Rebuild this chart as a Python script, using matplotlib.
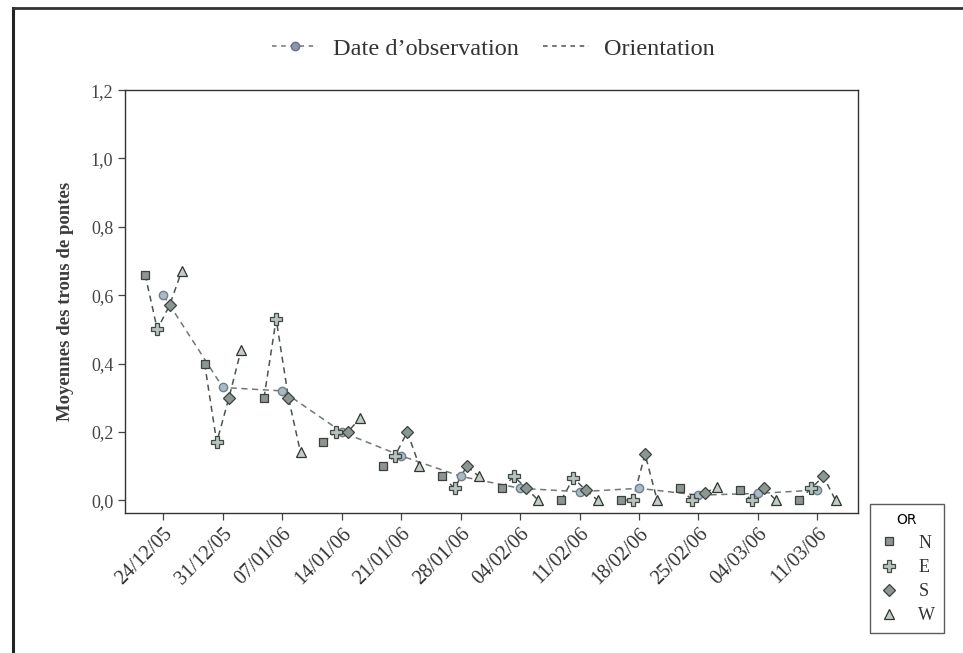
import datetime as dt

import numpy as np
import matplotlib
matplotlib.use("Agg")
import matplotlib.pyplot as plt
import matplotlib.dates as mdates
from matplotlib.lines import Line2D

plt.rcParams['font.family'] = ['Liberation Serif', 'DejaVu Serif']

# observation dates (weekly)
date_labels = ["24/12/05", "31/12/05", "07/01/06", "14/01/06", "21/01/06", "28/01/06",
               "04/02/06", "11/02/06", "18/02/06", "25/02/06", "04/03/06", "11/03/06"]
orientations = ["N", "E", "S", "W"]

# mean number of egg-laying holes per orientation, one row per date
val_N = [0.66, 0.40, 0.30, 0.17, 0.10, 0.07, 0.035, 0.00, 0.00, 0.035, 0.03, 0.00]
val_E = [0.50, 0.17, 0.53, 0.20, 0.13, 0.035, 0.07, 0.065, 0.00, 0.00, 0.00, 0.035]
val_S = [0.57, 0.30, 0.30, 0.20, 0.20, 0.10, 0.035, 0.03, 0.135, 0.02, 0.035, 0.07]
val_W = [0.67, 0.44, 0.14, 0.24, 0.10, 0.07, 0.00, 0.00, 0.00, 0.04, 0.00, 0.00]
# mean per observation date
val_mean = [0.60, 0.33, 0.32, 0.20, 0.13, 0.07, 0.035, 0.025, 0.035, 0.015, 0.02, 0.03]

dates = [dt.datetime.strptime(d, "%d/%m/%y") for d in date_labels]
xd = mdates.date2num(dates)
offsets = [-2.15, -0.72, 0.72, 2.15]  # day shift of each orientation inside a group

line_col = "#4b544e"
mk = {
    "N": dict(marker="s", ms=6, mfc="#8e948f", mec="#3a403c"),
    "E": dict(marker="P", ms=8, mfc="#b9c2bd", mec="#3f4a45"),
    "S": dict(marker="D", ms=6.5, mfc="#8d9792", mec="#39423e"),
    "W": dict(marker="^", ms=7, mfc="#c4ccc6", mec="#2f3632"),
}

fig = plt.figure(figsize=(9.63, 6.53), dpi=100)
ax = fig.add_axes([0.130, 0.214, 0.761, 0.648])

vals = np.array([val_N, val_E, val_S, val_W])

# orientation lines within each observation date
for i in range(len(dates)):
    xs = xd[i] + np.array(offsets)
    ax.plot(xs, vals[:, i], ls=(0, (4, 3)), color=line_col, lw=1.1, zorder=2)
    for j, o in enumerate(orientations):
        ax.plot(xs[j], vals[j, i], ls="none", mew=0.9, zorder=4, **mk[o])

# line of the date means
ax.plot(xd, val_mean, ls=(0, (4, 3)), color="#6f7974", lw=1.1,
        marker="o", ms=6, mfc="#a9bac3", mec="#6e808a", zorder=3)

ax.set_xlim(xd[0] - 4.5, xd[0] + 81.8)
ax.set_ylim(-0.038, 1.2)
ax.set_yticks(np.arange(0, 1.21, 0.2))
ax.set_yticklabels([f"{v:.1f}".replace(".", ",") for v in np.arange(0, 1.21, 0.2)],
                   fontsize=13, color="#444444")
ax.set_xticks(xd)
ax.set_xticklabels(date_labels, rotation=45, ha="right", rotation_mode="anchor",
                   fontsize=14.5, color="#333333")
ax.tick_params(axis="both", direction="out", length=5, width=0.9, color="#444444")
ax.tick_params(axis="x", pad=3)
for s in ax.spines.values():
    s.set_color("#333333")
    s.set_linewidth(1.0)
ax.set_ylabel("Moyennes des trous de pontes", fontsize=13.5, fontweight="bold",
              color="#3c3c3c", labelpad=12)

# top legend
h1 = Line2D([], [], ls=(0, (3, 3)), color="#6e7772", lw=1.1, marker="o", ms=6,
            mfc="#8d93b0", mec="#6a6f8c")
h2 = Line2D([], [], ls=(0, (3, 3)), color=line_col, lw=1.1)
fig.legend([h1, h2], ["Date d\u2019observation", "Orientation"], loc="center",
           bbox_to_anchor=(0.512, 0.925), ncol=2, frameon=False, fontsize=17.5,
           handlelength=1.9, handletextpad=0.6, columnspacing=1.0,
           labelcolor="#333333")

# orientation legend
hs = [Line2D([], [], ls="none", mew=0.9, **mk[o]) for o in orientations]
leg = fig.legend(hs, orientations, loc="lower left", bbox_to_anchor=(0.903, 0.03),
                 title="OR", fontsize=13, title_fontsize=10, frameon=True,
                 fancybox=False, edgecolor="#333333", handlelength=1.2,
                 handletextpad=1.0, borderpad=0.5, borderaxespad=0.0,
                 labelspacing=0.4, labelcolor="#333333")
leg.get_title().set_family("DejaVu Sans")
leg.get_frame().set_linewidth(1.0)

# scanned page frame
fig.add_artist(Line2D([13 / 963, 13 / 963], [0, 1 - 8 / 653], color="#222222", lw=2.2))
fig.add_artist(Line2D([13 / 963, 1], [1 - 8 / 653, 1 - 8 / 653], color="#333333", lw=2.0))

fig.savefig("out.png", dpi=100)
